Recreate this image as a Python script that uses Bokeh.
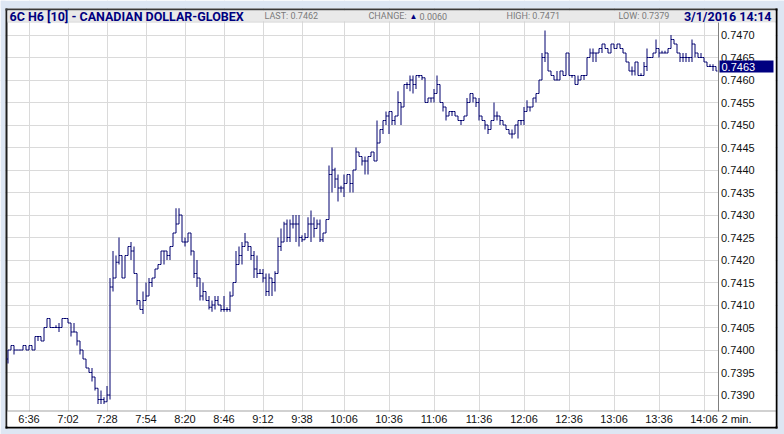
from bokeh.plotting import figure
from bokeh.models import Range1d, FixedTicker, PrintfTickFormatter, Label, BoxAnnotation, ColumnDataSource
from bokeh.embed import file_html
from bokeh.resources import INLINE

# ---- data: 2-minute OHLC bars of 6C H6, first bar 6:22, last bar 14:14 ----
first_bar_minute = 6 * 60 + 22
bar_length_minutes = 2
first_open = 0.7398

high = [
    0.7400, 0.7401, 0.74005, 0.7400, 0.7400, 0.7401, 0.7401, 0.7401, 0.7401, 0.7403,
    0.7403, 0.7403, 0.7405, 0.7407, 0.7407, 0.7405, 0.74055, 0.7406, 0.7407, 0.7407,
    0.7407, 0.7406, 0.7406, 0.7404, 0.7402, 0.7400, 0.7398, 0.7396, 0.7396, 0.7394,
    0.73915, 0.7391, 0.73895, 0.7392, 0.7416, 0.7422, 0.7421, 0.7425, 0.7421, 0.7421,
    0.7423, 0.7424, 0.7423, 0.7417, 0.7411, 0.7413, 0.7415, 0.7416, 0.7416, 0.7418,
    0.7419, 0.7422, 0.7422, 0.7422, 0.7423, 0.7426, 0.74315, 0.74315, 0.7430, 0.7425,
    0.7426, 0.7426, 0.7422, 0.7420, 0.7416, 0.7415, 0.7413, 0.7412, 0.7411, 0.7412,
    0.7412, 0.7410, 0.7412, 0.74095, 0.7413, 0.7415, 0.7422, 0.7423, 0.7424, 0.7426,
    0.7424, 0.7423, 0.7422, 0.7421, 0.7418, 0.7418, 0.7417, 0.7417, 0.7416, 0.74175,
    0.7425, 0.7427, 0.74285, 0.7429, 0.7429, 0.7430, 0.7430, 0.7430, 0.74255, 0.7426,
    0.74295, 0.7431, 0.74295, 0.7429, 0.7429, 0.7426, 0.7429, 0.7441, 0.7445, 0.74405,
    0.7439, 0.74365, 0.7439, 0.7439, 0.7439, 0.7440, 0.7445, 0.7444, 0.7443, 0.7443,
    0.7443, 0.7444, 0.7444, 0.7451, 0.7449, 0.7451, 0.7453, 0.7453, 0.7453, 0.7452,
    0.74575, 0.7455, 0.7459, 0.74595, 0.7461, 0.7461, 0.7461, 0.7461, 0.7461, 0.74605,
    0.7456, 0.7456, 0.7458, 0.7461, 0.7459, 0.7455, 0.7454, 0.7453, 0.7453, 0.7453,
    0.7452, 0.7451, 0.7452, 0.7456, 0.7457, 0.7457, 0.7456, 0.7456, 0.7452, 0.7451,
    0.7450, 0.7451, 0.7455, 0.7453, 0.7452, 0.7451, 0.7450, 0.7449, 0.7449, 0.7450,
    0.7451, 0.7451, 0.7454, 0.74555, 0.7454, 0.7456, 0.7457, 0.7460, 0.7466, 0.7471,
    0.7466, 0.7462, 0.7461, 0.7462, 0.7462, 0.7462, 0.7466, 0.7466, 0.7461, 0.7460,
    0.7461, 0.7461, 0.7461, 0.7465, 0.7467, 0.7467, 0.7466, 0.7467, 0.7468, 0.7468,
    0.7467, 0.7468, 0.74675, 0.7468, 0.7468, 0.7467, 0.7466, 0.7464, 0.7463, 0.7464,
    0.7462, 0.74615, 0.7464, 0.7467, 0.74645, 0.7466, 0.7469, 0.7467, 0.74665, 0.74665,
    0.7467, 0.7470, 0.7469, 0.7468, 0.7466, 0.7466, 0.7466, 0.7465, 0.7469, 0.7468,
    0.7466, 0.7466, 0.7465, 0.7464, 0.74635, 0.74635, 0.7463,
]

low = [
    0.7397, 0.7400, 0.7399, 0.7400, 0.7400, 0.7400, 0.7400, 0.7400, 0.7400, 0.7400,
    0.7402, 0.7402, 0.7402, 0.7405, 0.7405, 0.7405, 0.7405, 0.7404, 0.7405, 0.7407,
    0.7406, 0.7403, 0.7404, 0.7401, 0.7399, 0.7398, 0.7396, 0.7395, 0.7393, 0.7391,
    0.7388, 0.7388, 0.7388, 0.7389, 0.7389, 0.7413, 0.7416, 0.7419, 0.7416, 0.7416,
    0.7421, 0.7420, 0.7417, 0.7410, 0.7409, 0.7408, 0.7411, 0.7412, 0.7414, 0.7416,
    0.7418, 0.7419, 0.7419, 0.7420, 0.7420, 0.7423, 0.7426, 0.7428, 0.7424, 0.7423,
    0.7424, 0.7421, 0.7416, 0.7414, 0.7411, 0.7411, 0.7411, 0.7409, 0.74085, 0.7409,
    0.7410, 0.74085, 0.74085, 0.74085, 0.74085, 0.7412, 0.7415, 0.7419, 0.7419, 0.7423,
    0.7422, 0.7420, 0.7416, 0.7416, 0.7417, 0.7415, 0.7412, 0.7412, 0.7412, 0.7413,
    0.7417, 0.7422, 0.7424, 0.7424, 0.7424, 0.7427, 0.7424, 0.7423, 0.7424, 0.7425,
    0.7425, 0.7424, 0.7425, 0.7427, 0.7424, 0.7424, 0.7426, 0.7429, 0.7435, 0.7436,
    0.7433, 0.7435, 0.7434, 0.7437, 0.7435, 0.7435, 0.7440, 0.7443, 0.7441, 0.7439,
    0.7439, 0.7443, 0.7442, 0.7442, 0.7446, 0.7448, 0.7450, 0.7448, 0.7450, 0.7450,
    0.7452, 0.7450, 0.7454, 0.7458, 0.74575, 0.7457, 0.7458, 0.74605, 0.7460, 0.7455,
    0.7455, 0.7455, 0.7455, 0.7457, 0.7455, 0.7453, 0.7451, 0.7452, 0.7452, 0.7452,
    0.7451, 0.7450, 0.7451, 0.7452, 0.7455, 0.7455, 0.7454, 0.7451, 0.7451, 0.7449,
    0.7448, 0.7449, 0.7451, 0.7451, 0.7450, 0.7450, 0.7449, 0.7448, 0.7447, 0.7448,
    0.7447, 0.7450, 0.7450, 0.7453, 0.7453, 0.7454, 0.7455, 0.7457, 0.7460, 0.7464,
    0.7462, 0.7461, 0.7460, 0.7460, 0.7460, 0.7461, 0.7461, 0.7461, 0.74605, 0.7459,
    0.7459, 0.7460, 0.7460, 0.7461, 0.7465, 0.7464, 0.7464, 0.7466, 0.7466, 0.7467,
    0.7466, 0.7466, 0.7467, 0.7467, 0.7467, 0.7466, 0.7464, 0.7462, 0.7461, 0.7461,
    0.7461, 0.7461, 0.7461, 0.7462, 0.7465, 0.7465, 0.7466, 0.7465, 0.7466, 0.7466,
    0.7466, 0.7467, 0.7468, 0.7466, 0.7464, 0.7464, 0.7464, 0.7464, 0.7464, 0.7465,
    0.7465, 0.7465, 0.7464, 0.7463, 0.7463, 0.7462, 0.7462,
]

close = [
    0.7400, 0.7401, 0.7400, 0.7400, 0.7400, 0.7401, 0.7400, 0.7401, 0.7400, 0.7403,
    0.7403, 0.7402, 0.7405, 0.7407, 0.7405, 0.7405, 0.7405, 0.7405, 0.7407, 0.7407,
    0.7406, 0.7404, 0.7404, 0.7402, 0.7400, 0.7398, 0.7396, 0.7395, 0.7394, 0.73915,
    0.7389, 0.7389, 0.73885, 0.7390, 0.7414, 0.7416, 0.74195, 0.7421, 0.7416, 0.7421,
    0.7423, 0.7422, 0.7417, 0.7411, 0.7409, 0.7411, 0.7412, 0.7415, 0.7416, 0.7418,
    0.7419, 0.7422, 0.7422, 0.7421, 0.7423, 0.7426, 0.7428, 0.7430, 0.7424, 0.7424,
    0.7426, 0.7422, 0.7417, 0.7416, 0.7412, 0.7413, 0.7411, 0.74095, 0.7410, 0.7411,
    0.7410, 0.7409, 0.7409, 0.7409, 0.7412, 0.7415, 0.7419, 0.7421, 0.7423, 0.7424,
    0.7423, 0.7421, 0.7418, 0.7417, 0.7417, 0.7416, 0.7413, 0.7416, 0.7415, 0.7417,
    0.7423, 0.7424, 0.7428, 0.7425, 0.7428, 0.7428, 0.7428, 0.7425, 0.74245, 0.7425,
    0.7428, 0.7428, 0.7427, 0.7428, 0.74245, 0.7426, 0.7429, 0.7439, 0.7440, 0.7438,
    0.7436, 0.7436, 0.7437, 0.7439, 0.7437, 0.7440, 0.7444, 0.7443, 0.7442, 0.7442,
    0.7443, 0.7444, 0.7442, 0.7446, 0.7449, 0.7451, 0.7452, 0.7453, 0.7451, 0.7452,
    0.7455, 0.7454, 0.7459, 0.7459, 0.7460, 0.7459, 0.7461, 0.7461, 0.74605, 0.7455,
    0.7456, 0.7456, 0.7457, 0.7459, 0.7455, 0.7454, 0.7452, 0.7453, 0.7453, 0.7452,
    0.7451, 0.7451, 0.7452, 0.7455, 0.7457, 0.7456, 0.7455, 0.7452, 0.7451, 0.7450,
    0.7449, 0.7451, 0.7452, 0.7452, 0.7451, 0.7450, 0.7449, 0.7448, 0.7448, 0.7450,
    0.7451, 0.7451, 0.7453, 0.7454, 0.7454, 0.7456, 0.7457, 0.7460, 0.7465, 0.7466,
    0.7462, 0.7461, 0.7460, 0.7460, 0.7462, 0.7461, 0.7466, 0.7461, 0.7461, 0.7459,
    0.7460, 0.7461, 0.7461, 0.7465, 0.7466, 0.7466, 0.7466, 0.7467, 0.7468, 0.7467,
    0.7466, 0.7468, 0.7467, 0.7468, 0.7467, 0.7466, 0.7464, 0.7462, 0.7462, 0.7464,
    0.7461, 0.7461, 0.7463, 0.7465, 0.7465, 0.7466, 0.7467, 0.7466, 0.7466, 0.7466,
    0.7467, 0.7469, 0.7468, 0.7466, 0.7465, 0.7465, 0.7465, 0.7465, 0.7468, 0.7466,
    0.7465, 0.7465, 0.7464, 0.7463, 0.7463, 0.7463, 0.7462,
]

x_tick_labels = ["6:36", "7:02", "7:28", "7:54", "8:20", "8:46", "9:12", "9:38",
                 "10:06", "10:36", "11:06", "11:36", "12:06", "12:36", "13:06", "13:36", "14:06"]
y_ticks = [0.7390, 0.7395, 0.7400, 0.7405, 0.7410, 0.7415, 0.7420, 0.7425, 0.7430,
           0.7435, 0.7440, 0.7445, 0.7450, 0.7455, 0.7460, 0.7465, 0.7470]

title_text = "6C H6 [10] - CANADIAN DOLLAR-GLOBEX"
last_text = "LAST: 0.7462"
change_label = "CHANGE:"
change_value = "0.0060"
high_text = "HIGH: 0.7471"
low_text = "LOW: 0.7379"
date_text = "3/1/2016 14:14"
current_price_text = "0.7463"
current_price = 0.7463
interval_text = "2 min."

# ---- derived ----
minutes = [first_bar_minute + bar_length_minutes * i for i in range(len(close))]
opens = [first_open] + close[:-1]
bar_top = [max(h, o) for h, o in zip(high, opens)]
bar_bot = [min(l, o) for l, o in zip(low, opens)]
tick_minutes = [int(s.split(":")[0]) * 60 + int(s.split(":")[1]) for s in x_tick_labels]

# ---- canvas geometry (page pixels) ----
W, H = 784, 434
PX_PER_MIN = 1.5
PX_PER_PRICE = 45000.0
x_start = first_bar_minute - 7.5 / PX_PER_MIN          # minute at page x = 0
y_top = y_ticks[0] + 394.5 / PX_PER_PRICE               # price at page y = 0


def X(px):
    return x_start + px / PX_PER_MIN


def Y(py):
    return y_top - py / PX_PER_PRICE


NAVY = "#000080"
BAR = "#00006e"
FONT = "Liberation Sans"
HEAD = "Roboto"
PAGE_BLUE = "#dde6f3"

p = figure(width=W, height=H, output_backend="svg", toolbar_location=None,
           x_range=Range1d(X(0), X(W)), y_range=Range1d(Y(H), Y(0)),
           y_axis_location="right", min_border=0,
           min_border_left=0, min_border_right=0, min_border_top=0, min_border_bottom=0)
p.outline_line_color = None
p.background_fill_color = "white"
p.border_fill_color = PAGE_BLUE

src = ColumnDataSource(dict(
    t=minutes,
    tl=[m - 1 for m in minutes],
    tr=[m + 1 for m in minutes],
    o=opens, c=close, top=bar_top, bot=bar_bot,
))
p.segment(x0="t", y0="bot", x1="t", y1="top", source=src, line_color=BAR, line_width=1)
p.segment(x0="tl", y0="o", x1="t", y1="o", source=src, line_color=BAR, line_width=1)
p.segment(x0="t", y0="c", x1="tr", y1="c", source=src, line_color=BAR, line_width=1)

xa = p.xaxis[0]
xa.fixed_location = Y(411)
xa.ticker = FixedTicker(ticks=tick_minutes, minor_ticks=[])
xa.major_label_overrides = {m: s for m, s in zip(tick_minutes, x_tick_labels)}
xa.axis_line_color = None
xa.major_tick_line_color = None
xa.minor_tick_line_color = None
xa.major_tick_out = 0
xa.major_label_standoff = 1
xa.major_label_text_font = FONT
xa.major_label_text_font_size = "11px"
xa.major_label_text_color = "#111111"

ya = p.yaxis[0]
ya.fixed_location = X(717.5)
ya.bounds = (Y(411), Y(22))
ya.ticker = FixedTicker(ticks=y_ticks, minor_ticks=[])
ya.formatter = PrintfTickFormatter(format="%.4f")
ya.axis_line_color = "#7f7f7f"
ya.major_tick_line_color = None
ya.minor_tick_line_color = None
ya.major_tick_out = 0
ya.major_label_standoff = 3
ya.major_label_text_font = FONT
ya.major_label_text_font_size = "11px"
ya.major_label_text_color = "#111111"

p.xgrid.grid_line_color = "#dadada"
p.ygrid.grid_line_color = "#dadada"


def rect(x0, y0, x1, y1, color, level="underlay"):
    p.add_layout(BoxAnnotation(left=X(x0), right=X(x1), top=Y(y0), bottom=Y(y1),
                               fill_color=color, fill_alpha=1.0, line_color=None, level=level))


# page margins, window frame, header band, axis areas (drawn over the grid)
rect(0, 0, W, 8, PAGE_BLUE)
rect(0, 0, 5, H, PAGE_BLUE)
rect(777, 0, W, H, PAGE_BLUE)
rect(0, 428, W, H, PAGE_BLUE)
rect(5, 8, 7, 428, "#1e1e1e")
rect(5, 8, 777, 10, "#3a3a3a")
rect(775, 8, 777, 428, "#000000")
rect(5, 426, 777, 428, "#000000")
rect(7, 10, 775, 21, "#e9e9e9")
rect(7, 21, 775, 22, "#d2d2d2")
rect(718, 22, 775, 410, "white")
rect(7, 411, 775, 426, "white")
rect(7, 410, 775, 411, "#a4a4a4")


def label(px, py, text, size="9px", color="#7a7a7a", font=HEAD, style="normal", align="left"):
    p.add_layout(Label(x=X(px), y=Y(py), text=text,
                       text_font=font, text_font_size=size, text_color=color,
                       text_font_style=style, text_align=align, text_baseline="middle"))


label(9, 15.5, title_text, size="12.5px", color=NAVY, style="bold")
label(264, 15.5, last_text)
label(368, 15.5, change_label)
label(409, 15.5, "\u25b2", size="8px", color=NAVY, font=FONT)
label(419, 15.5, change_value)
label(506, 15.5, high_text)
label(618, 15.5, low_text)
label(771, 15.5, date_text, size="12.5px", color=NAVY, style="bold", align="right")

# current price marker on the right axis
p.add_layout(BoxAnnotation(left=X(719), right=X(773),
                           top=current_price + 6 / PX_PER_PRICE, bottom=current_price - 6 / PX_PER_PRICE,
                           fill_color=NAVY, fill_alpha=1.0, line_color=None, level="annotation"))
p.add_layout(Label(x=X(721), y=current_price, text=current_price_text,
                   text_font=FONT, text_font_size="11px", text_color="white", text_baseline="middle"))

label(721, 418, interval_text, size="11px", color="#111111", font=FONT)

open("out.html", "w").write(file_html(p, INLINE))
